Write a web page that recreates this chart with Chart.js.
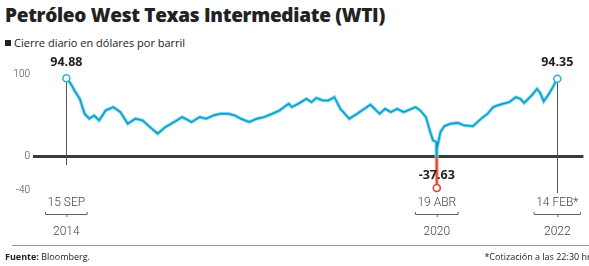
<!DOCTYPE html>
<html>
<head>
<meta charset="utf-8">
<script src="https://cdn.jsdelivr.net/npm/chart.js"></script>
<style>
body { margin:0; background:#fff; width:589px; height:266px; overflow:hidden; position:relative; font-family:"Open Sans", sans-serif }
#chart { position:absolute; left:0; top:0 }
.title { position:absolute; left:5px; top:2px; font-size:19px; font-weight:800; color:#222; letter-spacing:-0.3px; white-space:nowrap }
.sub { position:absolute; left:5px; top:35px; font-size:11px; color:#222; white-space:nowrap }
.sub b { display:inline-block; width:6px; height:6px; background:#222; margin-right:3px; vertical-align:1px }
.rule { position:absolute; left:12px; right:0; top:245px; border-top:1px solid #999 }
.src { position:absolute; left:5px; top:250px; font-size:9px; color:#222 }
.note { position:absolute; right:-6px; top:250px; font-size:9px; color:#222; white-space:nowrap }
</style>
</head>
<body>
<div class="title">Petróleo West Texas Intermediate (WTI)</div>
<div class="sub"><b></b>Cierre diario en dólares por barril</div>
<canvas id="chart" width="589" height="266"></canvas>
<div class="rule"></div>
<div class="src"><b>Fuente:</b> Bloomberg.</div>
<div class="note">*Cotización a las 22:30 hrs</div>

<script>
// ===== DATA =====
const dates = [
  "2014-09-15","2014-10-10","2014-10-30","2014-11-28","2014-12-25",
  "2015-01-20","2015-02-15","2015-03-15","2015-04-20","2015-06-01","2015-07-10","2015-08-20","2015-10-01","2015-11-10","2015-12-20",
  "2016-02-01","2016-03-15","2016-05-01","2016-06-15","2016-07-20","2016-08-05","2016-09-20","2016-10-25","2016-12-05",
  "2017-01-10","2017-02-25","2017-04-01","2017-05-05","2017-06-20","2017-08-01","2017-09-10","2017-10-25","2017-12-05",
  "2018-01-10","2018-01-25","2018-02-10","2018-03-25","2018-05-01","2018-05-30","2018-06-25","2018-08-01","2018-08-30","2018-10-03","2018-11-05","2018-12-24",
  "2019-02-05","2019-04-20","2019-06-10","2019-07-10","2019-08-10","2019-09-15","2019-10-20","2019-12-25",
  "2020-01-20","2020-02-20","2020-03-15","2020-03-30","2020-04-17","2020-04-20","2020-04-21","2020-05-01","2020-05-10","2020-06-01","2020-07-05","2020-08-15","2020-09-15","2020-11-05","2020-12-20",
  "2021-01-25","2021-02-25","2021-03-20","2021-04-20","2021-05-25","2021-07-01","2021-07-25","2021-08-15","2021-09-25","2021-10-25","2021-11-12","2021-12-01","2021-12-30",
  "2022-01-20","2022-02-14"
];
const prices = [
  94.88,88,80,70,52,
  46,50,44,56,60,54,40,46,44,36,
  28,36,42,48,44,42,48,46,50,
  52,52,50,46,42,46,48,52,56,
  62,64,60,65,70,66,71,68,68,72,58,46,
  52,63,52,58,54,58,54,60,
  56,48,30,20,18,-37.63,10,20,30,37,40,41,38,37,46,
  52,60,62,64,66,72,70,65,74,82,77,67,76,
  84,94.35
];
const yTicks = [-40, 0, 100];
// highlighted points: label above, date below
const markDates = ["2014-09-15", "2020-04-20", "2022-02-14"];
const markTop = ["15 SEP", "19 ABR", "14 FEB*"];
const markYear = ["2014", "2020", "2022"];

const DAY = 86400000;
const toDay = s => Date.parse(s + "T00:00:00Z") / DAY;
const points = dates.map((d, i) => ({ x: toDay(d), y: prices[i] }));
const markIdx = markDates.map(d => dates.indexOf(d));

const CYAN = "#2ab3dc", CYAN_DARK = "#1b93c2", GLOW = "#6fdff3";
const RED = "#e2412c", RED_GLOW = "#f3a095";

function splitColor(ctx, above, below) {
  const chart = ctx.chart;
  const area = chart.chartArea;
  if (!area) return above;
  const y0 = chart.scales.y.getPixelForValue(0);
  const f = Math.min(1, Math.max(0, (y0 - area.top) / (area.bottom - area.top)));
  const g = chart.ctx.createLinearGradient(0, area.top, 0, area.bottom);
  g.addColorStop(0, above); g.addColorStop(f, above);
  g.addColorStop(f, below); g.addColorStop(1, below);
  return g;
}

// vertical guide lines, value labels and date labels
const annot = {
  id: "annot",
  beforeDatasetsDraw(chart) {
    const c = chart.ctx, xs = chart.scales.x, ys = chart.scales.y;
    c.save();
    c.strokeStyle = "#555"; c.lineWidth = 1;
    [[0, 165], [2, 193]].forEach(([m, yEnd]) => {
      const i = markIdx[m];
      const px = Math.round(xs.getPixelForValue(points[i].x)) + 0.5;
      c.beginPath();
      c.moveTo(px, ys.getPixelForValue(points[i].y));
      c.lineTo(px, yEnd);
      c.stroke();
    });
    c.restore();
  },
  afterDatasetsDraw(chart) {
    const c = chart.ctx, xs = chart.scales.x, ys = chart.scales.y;
    c.save();
    c.textAlign = "center"; c.textBaseline = "middle";
    markIdx.forEach((i, m) => {
      const px = xs.getPixelForValue(points[i].x);
      const py = ys.getPixelForValue(points[i].y);
      c.font = "bold 12.5px 'Open Sans'";
      c.fillStyle = "#222";
      const off = points[i].y < 0 ? -13 : -16;
      c.fillText(prices[i].toFixed(2), px, py + off);

      c.font = "300 12px Roboto";
      c.fillStyle = "#444";
      c.fillText(markTop[m], px, 203);
      c.fillText(markYear[m], px, 232);
      const w = c.measureText(markTop[m]).width / 2 + 2;
      c.strokeStyle = "#666"; c.lineWidth = 1;
      c.beginPath();
      c.moveTo(px - w, 212); c.lineTo(px - w, 214.5); c.lineTo(px + w, 214.5); c.lineTo(px + w, 212);
      c.moveTo(px + 0.5, 214.5); c.lineTo(px + 0.5, 217);
      c.stroke();
    });
    c.restore();
  }
};

new Chart(document.getElementById("chart"), {
  type: "line",
  data: {
    datasets: [{
      // core line, drawn on top
      data: points,
      order: 0,
      borderColor: ctx => splitColor(ctx, CYAN_DARK, RED),
      borderWidth: 1.5,
      tension: 0,
      clip: false,
      pointRadius: ctx => markIdx.includes(ctx.dataIndex) ? 3.5 : 0,
      pointBorderWidth: 1.6,
      pointBackgroundColor: "#fff",
      pointBorderColor: ctx => prices[ctx.dataIndex] < 0 ? RED : CYAN
    }, {
      // glow underneath
      data: points,
      order: 1,
      borderColor: ctx => splitColor(ctx, GLOW, RED_GLOW),
      borderWidth: 3.5,
      pointRadius: 0,
      tension: 0,
      clip: false
    }]
  },
  options: {
    responsive: false,
    animation: false,
    layout: { padding: { top: 74, bottom: 76, left: 0, right: 0 } },
    plugins: { legend: { display: false }, tooltip: { enabled: false } },
    scales: {
      x: {
        type: "linear",
        display: false,
        min: toDay(dates[0]) - 184,
        max: toDay(dates[dates.length - 1]) + 144
      },
      y: {
        min: -40, max: 100,
        afterBuildTicks: s => { s.ticks = yTicks.map(v => ({ value: v })); },
        afterFit: s => { s.width = 33; },
        border: { display: false },
        grid: {
          drawTicks: false,
          color: ctx => ctx.tick && ctx.tick.value === 0 ? "#3a3a3a" : "rgba(0,0,0,0)",
          lineWidth: 3
        },
        ticks: { padding: 3, color: "#444", font: { family: "Roboto", size: 10, weight: "300" } }
      }
    }
  },
  plugins: [annot]
});
</script>
</body>
</html>
